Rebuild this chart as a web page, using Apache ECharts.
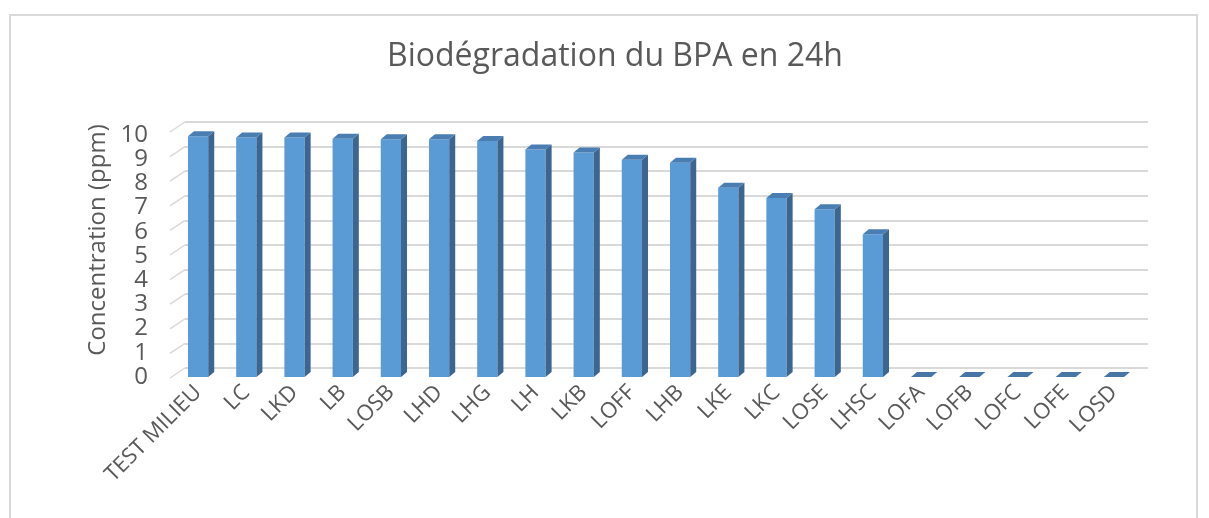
<!DOCTYPE html>
<html>
<head>
<meta charset="utf-8">
<script src="https://cdn.jsdelivr.net/npm/echarts@6/dist/echarts.min.js"></script>
<style>
  html, body { margin: 0; padding: 0; background: #fff; }
  #main { width: 1209px; height: 518px; }
</style>
</head>
<body>
<div id="main"></div>
<script>
// données
var categories = ['TEST MILIEU', 'LC', 'LKD', 'LB', 'LOSB', 'LHD', 'LHG', 'LH', 'LKB', 'LOFF',
  'LHB', 'LKE', 'LKC', 'LOSE', 'LHSC', 'LOFA', 'LOFB', 'LOFC', 'LOFE', 'LOSD'];
var concentrations = [9.95, 9.9, 9.9, 9.85, 9.82, 9.82, 9.75, 9.4, 9.28, 8.98,
  8.85, 7.82, 7.4, 6.93, 5.9, 0, 0, 0, 0, 0];
var yTicks = [0, 1, 2, 3, 4, 5, 6, 7, 8, 9, 10];

var textColor = '#595959';
var fontFam = '"Open Sans", "Noto Sans", sans-serif';

var chartDom = document.getElementById('main');
var myChart = echarts.init(chartDom);

// barre "3D" : face avant + côté + dessus
function renderBar(params, api) {
  var i = api.value(0);
  var v = api.value(1);
  var top = api.coord([i, v]);
  var base = api.coord([i, 0]);
  var w = api.size([1, 0])[0] * 0.42;
  var x0 = top[0] - w / 2;
  var x1 = top[0] + w / 2;
  var dx = 6, dy = 5;
  var children = [];
  if (base[1] - top[1] > 0.5) {
    children.push({
      type: 'rect',
      shape: { x: x0, y: top[1], width: w, height: base[1] - top[1] },
      style: { fill: '#5B9BD5' }
    });
    children.push({
      type: 'polygon',
      shape: { points: [[x1, top[1]], [x1 + dx, top[1] - dy], [x1 + dx, base[1] - dy], [x1, base[1]]] },
      style: { fill: '#3C6690' }
    });
  }
  children.push({
    type: 'polygon',
    shape: { points: [[x0, top[1]], [x0 + dx, top[1] - dy], [x1 + dx, top[1] - dy], [x1, top[1]]] },
    style: { fill: v > 0 ? '#4A7DB1' : '#4775A6' }
  });
  return { type: 'group', children: children };
}

// petits traits diagonaux à gauche du fond
function renderDiag(params, api) {
  var p = api.coord([0, api.value(1)]);
  return {
    type: 'line',
    shape: { x1: p[0], y1: p[1], x2: p[0] - 15, y2: p[1] + 10 },
    style: { stroke: '#D9D9D9', lineWidth: 1.5 }
  };
}

var option = {
  animation: false,
  backgroundColor: '#fff',
  graphic: [
    {
      type: 'rect',
      shape: { x: 10, y: 15, width: 1187, height: 520 },
      style: { fill: 'none', stroke: '#D9D9D9', lineWidth: 2 },
      silent: true
    },
    {
      type: 'text',
      x: 615, y: 57,
      style: {
        text: 'Biodégradation du BPA en 24h',
        fill: textColor, font: '32px ' + fontFam,
        textAlign: 'center', textVerticalAlign: 'middle'
      }
    },
    {
      type: 'text',
      x: 98, y: 240,
      rotation: Math.PI / 2,
      style: {
        text: 'Concentration (ppm)',
        fill: textColor, font: '24px ' + fontFam,
        textAlign: 'center', textVerticalAlign: 'middle'
      }
    }
  ],
  grid: [
    { left: 174, right: 71, top: 135, bottom: 141 },
    { left: 185, right: 61, top: 122, bottom: 150 }
  ],
  xAxis: [
    {
      type: 'category',
      gridIndex: 0,
      data: categories,
      axisLine: { show: false },
      axisTick: { show: false },
      axisLabel: {
        interval: 0, rotate: 45, margin: 12,
        color: textColor, fontSize: 22, fontFamily: fontFam
      }
    },
    { type: 'value', gridIndex: 1, min: 0, max: 1, show: false }
  ],
  yAxis: [
    {
      type: 'value',
      gridIndex: 0,
      min: 0, max: 10, interval: 1,
      axisLine: { show: false },
      axisTick: { show: false },
      splitLine: { show: false },
      axisLabel: {
        margin: 26, color: textColor, fontSize: 24, fontFamily: fontFam,
        showMinLabel: true, showMaxLabel: true,
        formatter: function (v) { return yTicks.indexOf(v) >= 0 ? String(v) : ''; }
      }
    },
    {
      type: 'value',
      gridIndex: 1,
      min: 0, max: 10, interval: 1,
      axisLine: { show: false },
      axisTick: { show: false },
      axisLabel: { show: false },
      splitLine: { lineStyle: { color: '#D9D9D9', width: 2 } }
    }
  ],
  series: [
    {
      type: 'custom',
      xAxisIndex: 1, yAxisIndex: 1,
      renderItem: renderDiag,
      data: yTicks.map(function (t) { return [0, t]; }),
      silent: true, z: 1
    },
    {
      type: 'custom',
      xAxisIndex: 0, yAxisIndex: 0,
      renderItem: renderBar,
      data: concentrations.map(function (v, i) { return [i, v]; }),
      z: 5
    }
  ]
};

myChart.setOption(option);
</script>
</body>
</html>
